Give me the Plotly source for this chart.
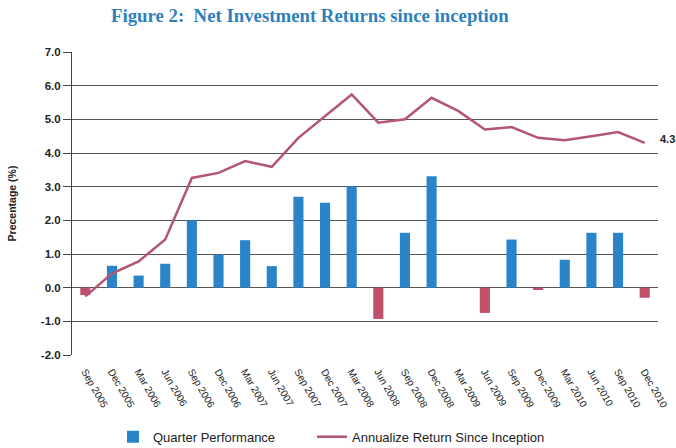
import plotly.graph_objects as go

categories = ["Sep 2005", "Dec 2005", "Mar 2006", "Jun 2006", "Sep 2006", "Dec 2006",
              "Mar 2007", "Jun 2007", "Sep 2007", "Dec 2007", "Mar 2008", "Jun 2008",
              "Sep 2008", "Dec 2008", "Mar 2009", "Jun 2009", "Sep 2009", "Dec 2009",
              "Mar 2010", "Jun 2010", "Sep 2010", "Dec 2010"]
quarter_perf = [-0.22, 0.65, 0.36, 0.71, 2.0, 0.98, 1.41, 0.64, 2.7, 2.52, 3.01, -0.93,
                1.63, 3.31, 0.0, -0.75, 1.43, -0.07, 0.83, 1.63, 1.63, -0.3]
annualized = [-0.26, 0.42, 0.78, 1.43, 3.26, 3.41, 3.76, 3.59, 4.45, 5.1, 5.74, 4.9,
              5.0, 5.64, 5.25, 4.7, 4.77, 4.45, 4.38, 4.5, 4.62, 4.3]
y_ticks = [7.0, 6.0, 5.0, 4.0, 3.0, 2.0, 1.0, 0.0, -1.0, -2.0]

BLUE = "#2a84c9"
RED = "#c0506a"
LINE = "#b3566f"
GRID = "#555555"

pos_vals = [v if v >= 0 else None for v in quarter_perf]
neg_vals = [v if v < 0 else None for v in quarter_perf]

fig = go.Figure()
fig.add_trace(go.Bar(
    x=categories, y=pos_vals, name="Quarter Performance", legend="legend",
    marker=dict(color=BLUE, line=dict(width=0)),
))
fig.add_trace(go.Bar(
    x=categories, y=neg_vals, name="Quarter Performance (negative)", showlegend=False,
    marker=dict(color=RED, line=dict(width=0)),
))
fig.add_trace(go.Scatter(
    x=categories, y=annualized, name="Annualize Return Since Inception", legend="legend2",
    mode="lines", line=dict(color=LINE, width=2.5),
))

fig.add_annotation(
    x=categories[-1], y=annualized[-1], text="<b>4.3</b>", showarrow=False,
    xanchor="left", xshift=13, yshift=4, font=dict(size=11, color="#222", family="Liberation Sans"),
)

legend_font = dict(family="Liberation Sans", size=13, color="#222")

fig.update_layout(
    template="none",
    width=676, height=448,
    margin=dict(l=72, r=18, t=52, b=93, autoexpand=False),
    paper_bgcolor="white", plot_bgcolor="white",
    title=dict(
        text="<b>Figure 2:  Net Investment Returns since inception</b>",
        x=111 / 676, xanchor="left", y=1 - 15 / 448, yanchor="middle",
        font=dict(family="Liberation Serif", size=18.8, color="#2f7fbd"),
    ),
    barmode="relative",
    bargap=0.62,
    showlegend=True,
    legend=dict(
        orientation="h", x=(113 - 72) / 586, xanchor="left", y=-0.27, yanchor="middle",
        font=legend_font, itemwidth=30, bgcolor="rgba(0,0,0,0)",
    ),
    legend2=dict(
        orientation="h", x=(312 - 72) / 586, xanchor="left", y=-0.27, yanchor="middle",
        font=legend_font, itemwidth=30, bgcolor="rgba(0,0,0,0)",
    ),
    font=dict(family="Liberation Sans", color="#222"),
)

fig.update_xaxes(
    type="category", range=[-0.5, len(categories) - 0.5],
    tickangle=60, showgrid=False, showline=False,
    ticks="outside", ticklen=6, tickcolor="rgba(0,0,0,0)",
    zeroline=False, automargin=False,
    tickfont=dict(size=10, family="Liberation Sans", color="#222"),
)
fig.update_yaxes(
    range=[-2, 7], tickvals=y_ticks, ticktext=[f"<b>{v:.1f}</b>" for v in y_ticks],
    showgrid=True, gridcolor=GRID, gridwidth=1,
    zeroline=True, zerolinecolor=GRID, zerolinewidth=1,
    showline=True, linecolor="#444", linewidth=1,
    ticks="outside", ticklen=8, tickcolor="#444",
    automargin=False,
    tickfont=dict(size=11.5, family="Liberation Sans", color="#222"),
    title=dict(text="<b>Precentage (%)</b>", font=dict(size=10.5, family="Liberation Sans", color="#222"), standoff=22),
)

fig.write_html(
    "out.html",
    config={"displayModeBar": False},
    post_script="document.body.style.margin='0';document.body.style.overflow='hidden';",
)
